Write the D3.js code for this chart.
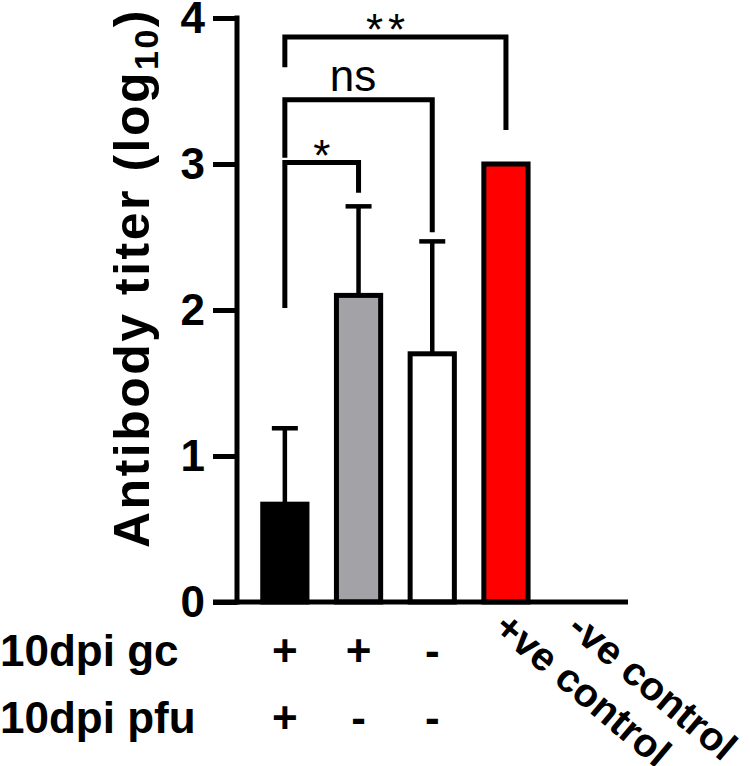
<html>
<head>
<meta charset="utf-8" />
<script src="https://d3js.org/d3.v7.min.js"></script>
<style>
  body { margin: 0; background: #fff; }
  text { font-family: "Liberation Sans", Arial, sans-serif; }
</style>
</head>
<body>
<div class="container"></div>
<script>
  // groups along the x axis
  const categories = ["gc+ pfu+", "gc+ pfu-", "gc- pfu-", "+ve control", "-ve control"];
  const means = [0.67, 2.1, 1.7, 3.0, 0];
  const upperErr = [0.52, 0.61, 0.77, 0, 0];
  const barColors = ["#000000", "#a3a2a7", "#ffffff", "#ff0000", "#ffffff"];

  const yTicks = [0, 1, 2, 3, 4];
  const rowLabels = ["10dpi gc", "10dpi pfu"];
  const gcRow = ["+", "+", "-", "", ""];
  const pfuRow = ["+", "-", "-", "", ""];
  const rotatedLabels = ["", "", "", "+ve control", "-ve control"];

  // significance brackets: groups compared, bracket level and leg ends (in log10 units)
  const comparisons = [
    { a: 0, b: 1, label: "*", level: 3.01, leftEnd: 2.03, rightEnd: 2.82 },
    { a: 0, b: 2, label: "ns", level: 3.44, leftEnd: 3.06, rightEnd: 2.55 },
    { a: 0, b: 3, label: "**", level: 3.87, leftEnd: 3.68, rightEnd: 3.25 }
  ];

  const width = 750, height = 766;
  const axisX = 237, baseY = 602;

  const svg = d3.select(".container").append("svg")
    .attr("width", width).attr("height", height);

  const y = d3.scaleLinear().domain([0, 4]).range([baseY, 18]);
  const x = d3.scaleBand().domain(categories).range([248, 616.5])
    .paddingInner(0.4).paddingOuter(0.2);
  const cx = (i) => x(categories[i]) + x.bandwidth() / 2;

  // bars
  const barData = means.map((m, i) => ({ m, i })).filter((d) => d.m > 0);
  svg.append("g").selectAll("rect")
    .data(barData)
    .join("rect")
    .attr("x", (d) => x(categories[d.i]))
    .attr("y", (d) => y(d.m))
    .attr("width", x.bandwidth())
    .attr("height", (d) => baseY - y(d.m))
    .attr("fill", (d) => barColors[d.i])
    .attr("stroke", "#000")
    .attr("stroke-width", 5);

  // error bars (upper only)
  const err = svg.append("g").attr("stroke", "#000").attr("stroke-width", 4.5);
  means.forEach((m, i) => {
    if (!upperErr[i]) return;
    const top = y(m + upperErr[i]);
    err.append("line").attr("x1", cx(i)).attr("x2", cx(i))
      .attr("y1", y(m)).attr("y2", top);
    err.append("line").attr("x1", cx(i) - 13).attr("x2", cx(i) + 13)
      .attr("y1", top).attr("y2", top);
  });

  // y axis
  const yAxis = d3.axisLeft(y).tickValues(yTicks).tickSize(24).tickPadding(8)
    .tickFormat(d3.format("d"));
  const ga = svg.append("g").attr("transform", `translate(${axisX},0)`).call(yAxis);
  ga.select(".domain").attr("stroke", "#000").attr("stroke-width", 5)
    .attr("d", `M0,${y(4) - 2.5}V${baseY + 2.5}`);
  ga.selectAll(".tick line").attr("stroke", "#000").attr("stroke-width", 5);
  ga.selectAll(".tick text")
    .attr("font-size", 44).attr("font-weight", "bold").attr("fill", "#000")
    .attr("font-family", "Liberation Sans, Arial, sans-serif");

  // x axis baseline
  svg.append("line")
    .attr("x1", axisX - 24).attr("x2", 628)
    .attr("y1", baseY).attr("y2", baseY)
    .attr("stroke", "#000").attr("stroke-width", 5);

  // y title
  const yt = svg.append("text")
    .attr("transform", "translate(149,278) rotate(-90)")
    .attr("text-anchor", "middle")
    .attr("font-size", 50).attr("font-weight", "bold")
    .attr("letter-spacing", 2.5);
  yt.append("tspan").text("Antibody titer (log");
  yt.append("tspan").attr("font-size", 34).attr("dy", 9).text("10");
  yt.append("tspan").attr("dy", -9).text(")");

  // condition rows
  const rows = svg.append("g").attr("font-size", 44).attr("font-weight", "bold");
  [gcRow, pfuRow].forEach((row, r) => {
    const by = 666 + r * 67;
    rows.append("text").attr("x", 0).attr("y", by).text(rowLabels[r]);
    row.forEach((s, i) => {
      if (!s) return;
      rows.append("text").attr("x", cx(i)).attr("y", by)
        .attr("text-anchor", "middle").text(s);
    });
  });

  // rotated control labels
  rows.selectAll(".rot")
    .data(rotatedLabels.map((t, i) => ({ t, i })).filter((d) => d.t))
    .join("text")
    .attr("font-size", 40)
    .attr("transform", (d) => `translate(${cx(d.i) - 14},631) rotate(40)`)
    .text((d) => d.t);

  // significance brackets
  const br = svg.append("g");
  comparisons.forEach((c) => {
    const x1 = cx(c.a), x2 = cx(c.b), ly = y(c.level);
    br.append("path")
      .attr("d", `M${x1},${y(c.leftEnd)}V${ly}H${x2}V${y(c.rightEnd)}`)
      .attr("fill", "none").attr("stroke", "#000").attr("stroke-width", 5)
      .attr("stroke-linejoin", "miter").attr("stroke-linecap", "square");
    br.append("text")
      .attr("x", c.label === "**" ? 388 : (c.label === "ns" ? 353 : (x1 + x2) / 2))
      .attr("y", c.label === "ns" ? ly - 9 : ly + 8)
      .attr("text-anchor", "middle")
      .attr("font-size", 44)
      .attr("letter-spacing", c.label === "**" ? 5 : 0)
      .text(c.label);
  });
</script>
</body>
</html>
